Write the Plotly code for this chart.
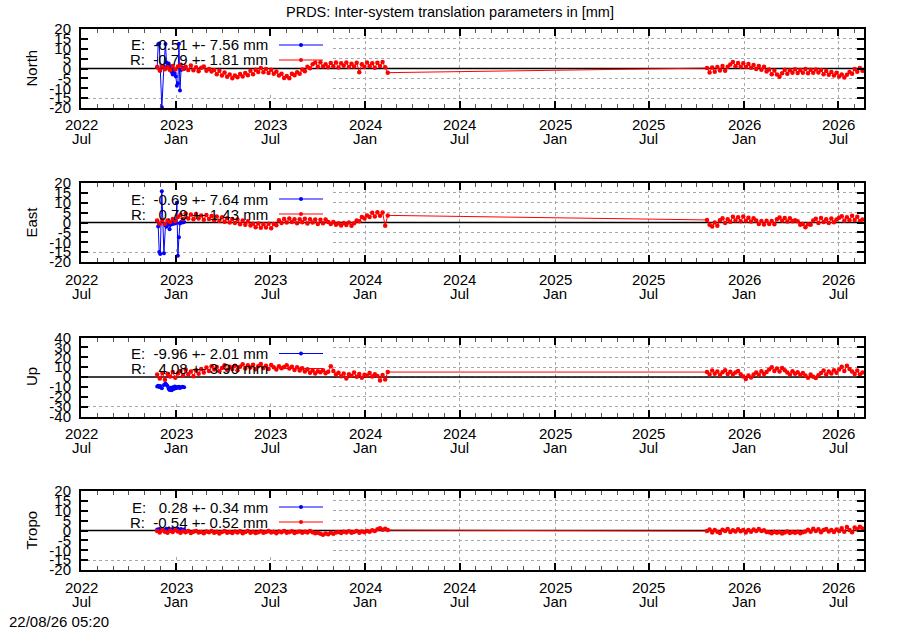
import pandas as pd
import plotly.graph_objects as go

# ---------------- data ----------------
TITLE = "PRDS: Inter-system translation parameters in [mm]"
STAMP = "22/08/26 05:20"
PANEL_NAMES = ["North", "East", "Up", "Tropo"]
Y_LIMITS = [20, 20, 40, 20]
Y_STEPS = [5, 5, 10, 5]
E_LABELS = ["E:  -0.51 +- 7.56 mm", "E:  -0.69 +- 7.64 mm",
            "E:  -9.96 +- 2.01 mm", "E:   0.28 +- 0.34 mm"]
R_LABELS = ["R:  -0.79 +- 1.81 mm", "R:   0.79 +- 1.43 mm",
            "R:   4.08 +- 3.90 mm", "R:  -0.54 +- 0.52 mm"]

X_START = "2022-07-01"
X_END = "2026-08-20"
TICK_STEP = "6MS"
KEY_BOX_END = "2023-10-28"   # right edge of the opaque key box

# E series (blue): dates and values per panel
BLUE_DATES = ["2022-11-25", "2022-11-27", "2022-11-29", "2022-12-01", "2022-12-04",
              "2022-12-08", "2022-12-11", "2022-12-13", "2022-12-15", "2022-12-17",
              "2022-12-19", "2022-12-21", "2022-12-23", "2022-12-25", "2022-12-27",
              "2022-12-29", "2022-12-31", "2023-01-02", "2023-01-04", "2023-01-06",
              "2023-01-08", "2023-01-10", "2023-01-13", "2023-01-16"]
BLUE_NORTH = [0.5, 12.3, 12.6, -1.2, -19.6, 1.0, 12.4, 3.0, 1.5, 2.5, -0.5, 1.2,
              -1.8, -3.0, -1.0, -2.5, -4.0, -8.7, -7.5, 12.5, -11.2, -0.8, 0.5, -0.3]
BLUE_EAST = [0.8, -2.0, -15.0, -16.0, 15.8, -15.6, -1.5, -2.2, -0.6, -1.0, -3.4, -1.2,
             -0.2, -0.8, 0.4, -0.5, -0.3, 10.0, -16.8, -7.5, -0.5, 0.2, 0.0, 0.3]
BLUE_UP = [-9.5, -8.8, -10.2, -9.0, -11.5, -8.2, -6.5, -7.8, -9.0, -12.0, -13.2, -11.0,
           -13.5, -10.5, -12.2, -9.5, -11.5, -10.2, -10.8, -9.8, -11.2, -10.5, -9.8, -10.4]
BLUE_TROPO = [0.5, 0.1, 0.8, 0.3, 0.6, -0.1, 0.4, 0.9, 0.2, 0.5, 0.7, 0.0,
              0.4, 0.8, 0.3, 0.6, 0.1, 0.5, 0.9, 0.4, 0.2, 0.7, 0.3, 0.5]

# R series (red): two sampled stretches, one value every 5 days
RED_SEG1_START = "2022-11-25"
RED_SEG2_START = "2025-10-21"
RED_STEP = "5D"

NORTH_R1 = [0.8, -1.0, 1.2, -0.4, 0.6, -0.9, 1.3, -0.5, 1.0, 1.8, -0.3,
            0.9, -0.8, 1.5, -0.9, 0.6, -1.4, 0.4, 1.0, -1.1, -0.2, -1.5,
            -0.8, -2.9, -1.2, -3.5, -2.0, -4.2, -3.0, -5.0, -3.6, -4.4,
            -2.8, -4.1, -2.3, -3.4, -1.2, -2.9, -0.6, -1.8, 0.2,
            -1.9, -0.3, -2.3, -0.6, -2.6, -1.5,
            -3.6, -2.6, -4.8, -3.8, -5.0, -2.7,
            -3.4, -1.9, -2.6, -0.5, -1.4, 0.9, 0.1, 2.1,
            3.0, 0.9, 3.2, 1.0, 2.2, 0.6, 2.8, 1.2, 3.0, 0.5, 2.6, 1.4, 3.1, 0.8, 2.4,
            1.0, 2.9, -1.9, 2.2, 0.7, 3.0, 1.1, 2.6, 0.4, 2.9, 1.3, 3.3, 0.6, -2.1]
NORTH_R2 = [0.2, -2.0, 0.5, -1.6, 0.8,
            -1.0, 1.3, -1.2, 0.9, 2.0,
            3.3, 1.2, 2.8, 0.9, 2.6, 0.8, 2.3,
            0.4, 1.8, -0.2, 1.3, -0.6, 0.9,
            -1.5, -0.5, -2.9, -1.0, -3.1, -4.2,
            -2.4, -0.6, -2.6, -0.9, -2.2, -0.4, -2.3, -0.7, -2.1, -0.3, -2.4, -0.6,
            -2.2, -0.5, -2.0, -0.8,
            -2.9, -1.3, -3.2, -1.8, -3.6, -2.1, -4.0, -3.0, -4.6, -3.2,
            -1.8, -2.6, -0.2, -1.6, 0.3, -1.2]

EAST_R1 = [1.0, -0.6, 1.4, -0.7, 1.0, 0.2, 1.8, 0.8, 2.8,
           3.9, 1.8, 4.5, 2.0, 4.1, 1.6, 4.3, 2.0, 3.6, 1.4, 3.8, 1.8,
           3.3, 1.2, 3.0, 0.8, 2.6, 0.4, 2.2, 0.0, 1.8, -0.3, 1.5, -0.9, 1.0, -1.2, 0.6, -1.5,
           -0.6, -2.4, -0.5, -2.7, -0.9, -2.5, -0.6, -2.9, -0.8, -1.4,
           1.2, -0.3, 1.8, 0.0, 2.0, 0.2, 1.7, -0.4, 1.6, 0.1, 1.9, -0.5, 1.6, 0.0, 1.5,
           -0.8, 1.4, -0.4, 1.5,
           0.3, -0.8, 0.2, -1.2, -0.4, -1.5, -0.2, -1.3, 0.0, -1.6, -0.4,
           1.0, 0.6, 2.8, 2.0, 3.6, 2.8, 4.9, 3.0, 5.2, 3.4, 5.0, -1.7, 3.6]
EAST_R2 = [1.3, -1.2, -2.0, 0.0, -1.6,
           1.2, 2.2, -0.2, 1.7, 0.4,
           2.9, 1.0, 2.6, 0.6, 3.0, 0.9, 2.4, 0.5, 2.1,
           1.0, -0.8, 0.7, -1.0, 0.9, -0.7, 0.8, -0.9,
           1.7, 2.5, 0.9, 2.3, 0.5, 2.1, 0.6, 1.2,
           0.6, -1.1, -0.7, -2.4, -0.9, -1.2,
           1.0, 1.9, -0.2, 2.3, 0.3, 1.7, -0.3, 2.0, 0.1, 1.5,
           2.4, 3.2, 0.9, 2.7, 1.1, 3.4, 1.3, 2.9, 0.8, 1.5]

UP_R1 = [2.5, -1.5, 4.0, -2.8, 3.2, 0.5, 5.0, -0.8, 3.5,
         6.0, 1.5, 7.5, 2.8, 5.5, 0.8, 6.8, 3.2, 8.0, 4.5,
         9.5, 6.2, 11.0, 7.5, 10.2, 5.8, 9.0, 12.0, 7.0, 10.5, 8.2, 11.5, 6.8,
         10.5, 13.0, 8.5, 11.8, 9.5, 12.5, 7.8, 10.8, 13.2, 9.2, 11.5, 8.0, 12.2, 9.8,
         7.5, 11.0, 8.8, 10.2,
         11.8, 8.5, 10.5, 7.2, 9.8, 6.5, 8.8, 5.5, 7.8, 4.2, 6.5, 3.5, 5.8, 4.8, 6.8,
         3.8, 5.2,
         10.8, 6.0,
         2.5, 4.2, 0.8, 3.5, -1.5, 2.8, 1.2, 4.5, 0.2, 3.0, -0.8, 2.2, 1.5, 4.0, 0.5,
         2.8, 1.0,
         -3.5, 2.0, -2.5, 5.0]
UP_R2 = [5.0, 2.5, 6.5, 3.2, 5.5, 2.0, 4.8, 6.8, 3.0, 5.2, 2.5, 4.5, 6.0,
         2.8, 0.5, -2.0, 1.5, -0.5, 2.5,
         4.5, 2.2, 5.8, 3.0, 5.0,
         7.5, 9.8, 6.0, 8.5, 5.5, 9.0, 6.8,
         4.5, 2.5, 5.8, 3.2, 4.8, 2.0, 4.0,
         1.5, -0.8, 2.5, 0.2, -1.0, 1.8,
         4.0, 6.5, 2.5, 5.5, 3.5, 6.8, 4.2,
         7.5, 10.5, 6.0, 11.5, 8.0,
         5.5, 3.0, 6.5, 2.5, 4.5]

TROPO_R1 = [-0.2, -1.0, 0.3, -0.6, -1.2, -0.1, -0.8, 0.2, -0.5, -1.1,
            -0.4, -0.9, -0.2, -1.3, -0.6, -0.3, -1.0, -0.7, -1.4, -0.5,
            -0.9, -0.2, -1.2, -0.6, -1.5, -0.8, -0.3, -1.1, -0.7, -1.3,
            -0.5, -1.0, -0.4, -1.4, -0.8, -0.2, -1.1, -0.6, -1.3, -0.9,
            -0.4, -1.2, -0.7, -0.3, -1.0, -0.6, -1.4, -0.5, -0.9, -0.2,
            -1.1, -0.7, -0.4, -1.3, -0.8, -0.5, -1.2, -0.6, -1.0, -0.3,
            -0.9, -1.4, -1.1, -1.6, -2.1, -1.5, -1.9, -1.2, -1.7, -1.0,
            -0.8, -1.3, -0.6, -1.0, -0.4, -1.2, -0.7, -0.3, -1.1, -0.5,
            -0.9, -0.2, -0.6, 0.1, -0.3, 0.6, 1.1, 0.4, 0.9, 0.2]
TROPO_R2 = [-0.3, 0.5, -1.0, 0.2, -0.6, -1.3, 0.4, -0.2, 0.7, -0.8, 0.1, -0.5,
            0.6, -0.4, 0.2, -1.0, 0.3, -0.6, 0.5, -0.2, 0.8, -0.3, 0.1, -0.7,
            -0.9, -1.4, -0.6, -1.2, -0.8, -1.5, -1.0, -0.5, -1.3, -0.7, -1.1, -0.6,
            -1.4, -0.9, -0.5,
            0.4, -0.6, 0.9, -0.3, 0.6, -0.9, 0.2, 0.8, -0.5, 0.3, -0.8, 0.5, -0.2,
            1.2, -0.6, 1.8, 0.3, -0.9, 1.5, 0.6, 1.9, 1.0]

BLUE_SERIES = [BLUE_NORTH, BLUE_EAST, BLUE_UP, BLUE_TROPO]
RED_SEG1 = [NORTH_R1, EAST_R1, UP_R1, TROPO_R1]
RED_SEG2 = [NORTH_R2, EAST_R2, UP_R2, TROPO_R2]

# ---------------- layout constants ----------------
FONT = "Liberation Sans, Arial, Helvetica, sans-serif"
W, H = 900, 630
ML, MR, MT, MB = 81, 36, 29, 60
PLOT_H = H - MT - MB
PANEL_TOPS = [29, 183, 337.5, 491]
PANEL_H = 79
BLUE = "#0000ff"
RED = "#ff0000"
NB = "\u00a0"
TXT = dict(family=FONT, size=15, color="black")


def px_to_xpaper(px):
    return (px - ML) / (W - ML - MR)


def px_to_ypaper(py):
    return (MT + PLOT_H - py) / PLOT_H


def clamp(v):
    return min(1.0, max(0.0, v))


tick_dates = pd.date_range(X_START, X_END, freq=TICK_STEP)

fig = go.Figure()
shapes = []
annotations = []

for k in range(4):
    n = k + 1
    xa = "x" if n == 1 else f"x{n}"
    ya = "y" if n == 1 else f"y{n}"
    s1 = RED_SEG1[k]
    s2 = RED_SEG2[k]
    red_x = list(pd.date_range(RED_SEG1_START, periods=len(s1), freq=RED_STEP)) + \
        list(pd.date_range(RED_SEG2_START, periods=len(s2), freq=RED_STEP))
    red_y = s1 + s2

    fig.add_trace(go.Scatter(x=BLUE_DATES, y=BLUE_SERIES[k], mode="lines+markers",
                             line=dict(color=BLUE, width=1),
                             marker=dict(size=4, color=BLUE),
                             xaxis=xa, yaxis=ya, showlegend=False, hoverinfo="skip"))
    fig.add_trace(go.Scatter(x=red_x, y=red_y, mode="lines+markers",
                             line=dict(color=RED, width=1),
                             marker=dict(size=4.5, color=RED),
                             xaxis=xa, yaxis=ya, showlegend=False, hoverinfo="skip"))

    top = PANEL_TOPS[k]
    bot = top + PANEL_H
    d0 = clamp(px_to_ypaper(bot))
    d1 = clamp(px_to_ypaper(top))
    lim = Y_LIMITS[k]
    step = Y_STEPS[k]
    yt = list(range(-lim, lim + 1, step))

    fig.layout["xaxis" + ("" if n == 1 else str(n))] = dict(
        domain=[0, 1], anchor=ya, type="date", range=[X_START, X_END],
        tick0=X_START, dtick="M6", showticklabels=False,
        ticks="inside", ticklen=7, tickwidth=1.5, tickcolor="black",
        showline=True, linewidth=2, linecolor="black", mirror="allticks",
        showgrid=True, gridcolor="#a8a8a8", griddash="dot", gridwidth=1,
        minor=dict(dtick="M1", tick0=X_START, ticks="inside", ticklen=4,
                   tickwidth=1, tickcolor="#555555", showgrid=False),
        zeroline=False, fixedrange=True)
    fig.layout["yaxis" + ("" if n == 1 else str(n))] = dict(
        domain=[d0, d1], anchor=xa, range=[-lim, lim],
        tickvals=yt, ticktext=[str(v) for v in yt],
        ticks="inside", ticklen=7, tickwidth=1.5, tickcolor="black",
        showline=True, linewidth=2, linecolor="black", mirror="allticks",
        showgrid=True, gridcolor="#a8a8a8", griddash="dot", gridwidth=1,
        zeroline=False,
        ticklabelstandoff=5,
        tickfont=TXT, fixedrange=True)

    xd = f"{xa} domain"
    yd = f"{ya} domain"
    # opaque key box (hides grid behind the key)
    shapes.append(dict(type="rect", xref=xa, yref=ya, x0=X_START, x1=KEY_BOX_END,
                       y0=-lim * 0.625, y1=lim, fillcolor="white",
                       line=dict(width=0), layer="between"))
    # zero reference line (above the key box, below the data)
    shapes.append(dict(type="line", xref=xa, yref=ya, x0=X_START, x1=X_END,
                       y0=0, y1=0, line=dict(color="black", width=1.5),
                       layer="between"))
    # key samples
    for row, (col, dy) in enumerate([(BLUE, 16), (RED, 31)]):
        yy = (PANEL_H - dy) / PANEL_H
        shapes.append(dict(type="line", xref=xd, yref=yd,
                           x0=px_to_xpaper(279), x1=px_to_xpaper(323), y0=yy, y1=yy,
                           line=dict(color=col, width=1.2), layer="above"))
        shapes.append(dict(type="circle", xref=xd, yref=yd,
                           x0=px_to_xpaper(299), x1=px_to_xpaper(303),
                           y0=yy - 2 / PANEL_H, y1=yy + 2 / PANEL_H,
                           fillcolor=col, line=dict(width=0), layer="above"))
        label = (E_LABELS if row == 0 else R_LABELS)[k].replace(" ", NB)
        annotations.append(dict(text=label, xref="paper", yref=yd,
                                x=px_to_xpaper(270), y=yy, xanchor="right",
                                yanchor="middle", showarrow=False, font=TXT))
    annotations.append(dict(text=PANEL_NAMES[k], xref="paper", yref=yd,
                            x=px_to_xpaper(31), y=0.5, textangle=-90,
                            xanchor="center", yanchor="middle", showarrow=False,
                            font=TXT))
    # two-line date tick labels (year over month), placed on the axis scale
    for d in tick_dates:
        annotations.append(dict(text=d.strftime("%Y"), xref=xa, yref=yd,
                                x=d, y=-17 / PANEL_H, xanchor="center",
                                yanchor="middle", showarrow=False, font=TXT))
        annotations.append(dict(text=d.strftime("%b"), xref=xa, yref=yd,
                                x=d, y=-31 / PANEL_H, xanchor="center",
                                yanchor="middle", showarrow=False, font=TXT))

annotations.append(dict(text=TITLE, xref="paper", yref="paper",
                        x=px_to_xpaper(450), y=px_to_ypaper(12),
                        xanchor="center", yanchor="middle", showarrow=False,
                        font=dict(family=FONT, size=14.5, color="black")))
annotations.append(dict(text=STAMP, xref="paper", yref="paper",
                        x=px_to_xpaper(7), y=px_to_ypaper(621),
                        xanchor="left", yanchor="middle", showarrow=False,
                        font=TXT))

fig.update_layout(
    width=W, height=H,
    margin=dict(l=ML, r=MR, t=MT, b=MB, pad=0),
    paper_bgcolor="white", plot_bgcolor="white",
    font=TXT,
    shapes=shapes, annotations=annotations, showlegend=False,
)

fig.write_html("out.html",
               config={"displayModeBar": False},
               post_script="document.body.style.margin='0px';"
                           "document.body.style.overflow='hidden';")
